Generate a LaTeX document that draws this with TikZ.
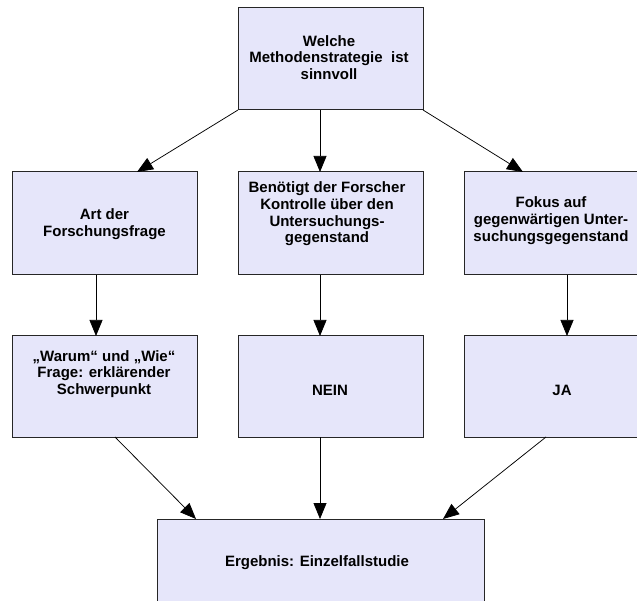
\documentclass[tikz,border=0pt]{standalone}
\usepackage{fontspec}
\setmainfont{Liberation Sans}
\usetikzlibrary{arrows.meta}
\definecolor{boxfill}{HTML}{E6E6FA}
\begin{document}
\begin{tikzpicture}[x=1pt,y=-1pt,
  box/.style={draw=black!85, line width=1pt, fill=boxfill,
    minimum width=185pt, minimum height=103pt, inner sep=0pt, outer sep=0pt},
  txt/.style={align=center, inner sep=0pt,
    font=\fontsize{15}{16.7}\selectfont\bfseries},
  arr/.style={-{Triangle[length=16pt,width=13pt]}, line width=0.75pt, draw=black}]
\useasboundingbox (0,0) rectangle (637,601);
\clip (0,0) rectangle (637,601);

% boxes
\node[box, minimum height=102pt] (top) at (330.5,59) {};
\node[box] (l2) at (104.5,223.5) {};
\node[box] (m2) at (330.5,223.5) {};
\node[box] (r2) at (556.5,223.5) {};
\node[box, minimum height=101pt] (l3) at (104.5,386.5) {};
\node[box, minimum height=101pt] (m3) at (330.5,386.5) {};
\node[box, minimum height=101pt] (r3) at (556.5,386.5) {};
\node[box, minimum width=327pt, minimum height=110pt] (res) at (320.5,574) {};

% labels
\node[txt] (t0) at (329,57.5) {Welche\\Methodenstrategie\ \ ist\\sinnvoll};
\node[txt] (t1) at (104.5,224) {Art der\\Forschungsfrage};
\node[txt] (t2) at (327,214) {Benötigt der Forscher\\Kontrolle über den\\Untersuchungs-\\gegenstand};
\node[txt] (t3) at (551,220.5) {Fokus auf\\gegenwärtigen Unter-\\suchungsgegenstand};
\node[txt] (t4) at (104,374) {„Warum“ und „Wie“\\Frage: erklärender\\Schwerpunkt};
\node[txt] (t5) at (330,390) {NEIN};
\node[txt] (t6) at (562,390) {JA};
\node[txt] (t7) at (317,563) {Ergebnis: Einzelfallstudie};

% connectors
\draw[arr] (top.south west) -- ([xshift=32.5pt]l2.north);
\draw[arr] ([xshift=-10.5pt]top.south) -- ([xshift=-10.5pt]m2.north);
\draw[arr] (top.south east) -- ([xshift=-33.5pt]r2.north);
\draw[arr] ([xshift=-8.5pt]l2.south) -- ([xshift=-8.5pt]l3.north);
\draw[arr] ([xshift=-10.5pt]m2.south) -- ([xshift=-10.5pt]m3.north);
\draw[arr] ([xshift=10.5pt]r2.south) -- ([xshift=10.5pt]r3.north);
\draw[arr] ([xshift=10.5pt]l3.south) -- ([xshift=-124.5pt]res.north);
\draw[arr] ([xshift=-10.5pt]m3.south) -- ([xshift=-0.5pt]res.north);
\draw[arr] ([xshift=-10.5pt]r3.south) -- ([xshift=122.5pt]res.north);
\end{tikzpicture}
\end{document}
